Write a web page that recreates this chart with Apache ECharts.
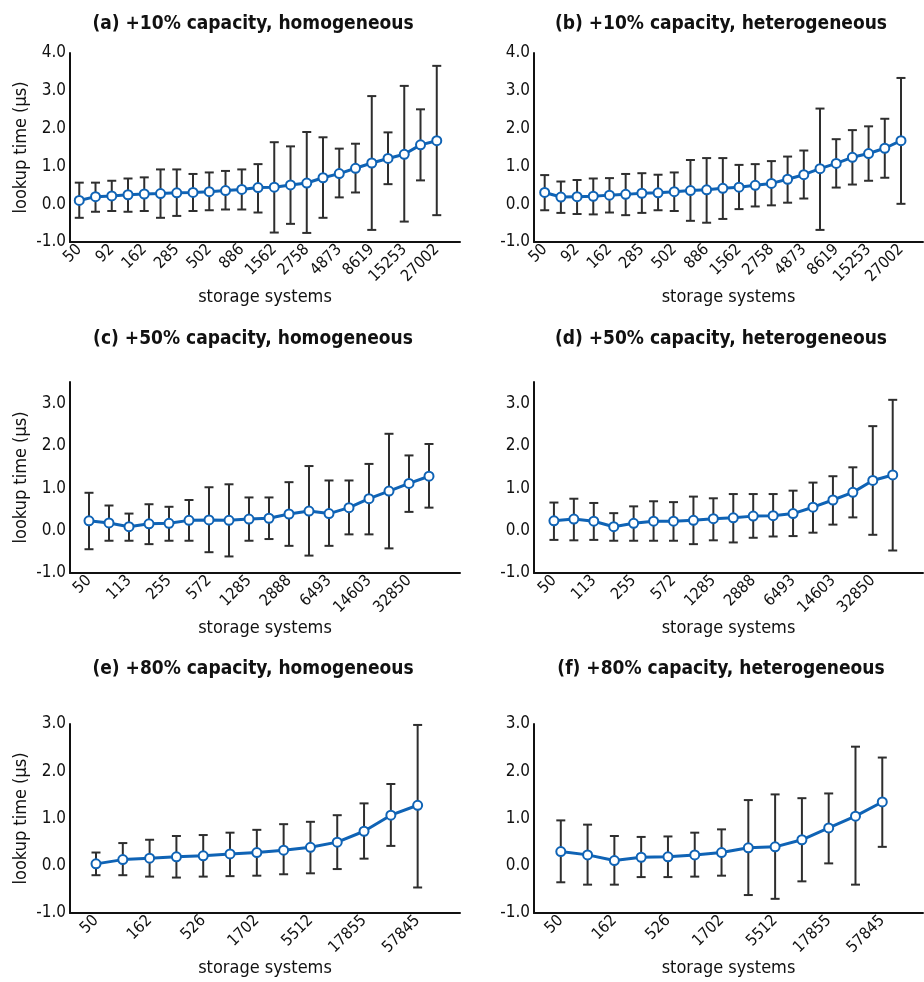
<!DOCTYPE html>
<html>
<head>
<meta charset="utf-8">
<script src="https://cdn.jsdelivr.net/npm/echarts@6/dist/echarts.min.js"></script>
<style>
  html, body { margin: 0; padding: 0; background: #fff; }
  #chart { width: 924px; height: 982px; }
</style>
</head>
<body>
<div id="chart"></div>
<script>
// tick labels of the x axes (every other point is labelled)
const labelsA = ['50', '92', '162', '285', '502', '886', '1562', '2758', '4873', '8619', '15253', '27002'];
const labelsC = ['50', '113', '255', '572', '1285', '2888', '6493', '14603', '32850'];
const labelsE = ['50', '162', '526', '1702', '5512', '17855', '57845'];

// (a) +10% homogeneous
const meanA = [0.10, 0.20, 0.22, 0.25, 0.27, 0.28, 0.30, 0.31, 0.33, 0.36, 0.39, 0.44, 0.45, 0.51, 0.56, 0.70, 0.81, 0.95, 1.09, 1.21, 1.32, 1.57, 1.68];
const lowA = [-0.36, -0.20, -0.18, -0.20, -0.18, -0.36, -0.31, -0.18, -0.16, -0.14, -0.14, -0.22, -0.75, -0.52, -0.76, -0.36, 0.18, 0.31, -0.68, 0.53, -0.46, 0.63, -0.29];
const highA = [0.57, 0.57, 0.62, 0.68, 0.71, 0.92, 0.92, 0.80, 0.84, 0.88, 0.92, 1.06, 1.64, 1.53, 1.91, 1.77, 1.47, 1.60, 2.86, 1.90, 3.13, 2.51, 3.66];

// (b) +10% heterogeneous
const meanB = [0.31, 0.19, 0.20, 0.21, 0.24, 0.26, 0.29, 0.30, 0.33, 0.36, 0.38, 0.42, 0.45, 0.50, 0.55, 0.66, 0.78, 0.94, 1.08, 1.24, 1.34, 1.48, 1.68];
const lowB = [-0.16, -0.23, -0.26, -0.27, -0.22, -0.29, -0.23, -0.16, -0.18, -0.44, -0.49, -0.39, -0.13, -0.06, -0.03, 0.04, 0.15, -0.68, 0.44, 0.52, 0.62, 0.70, 0.01];
const highB = [0.77, 0.60, 0.64, 0.68, 0.69, 0.80, 0.82, 0.78, 0.84, 1.17, 1.22, 1.22, 1.04, 1.06, 1.14, 1.26, 1.42, 2.53, 1.72, 1.96, 2.06, 2.26, 3.34];

// (c) +50% homogeneous
const meanC = [0.23, 0.18, 0.09, 0.16, 0.17, 0.24, 0.25, 0.24, 0.27, 0.29, 0.39, 0.46, 0.40, 0.54, 0.75, 0.93, 1.11, 1.28];
const lowC = [-0.44, -0.24, -0.24, -0.32, -0.24, -0.24, -0.51, -0.61, -0.24, -0.20, -0.36, -0.59, -0.36, -0.09, -0.09, -0.42, 0.44, 0.54];
const highC = [0.89, 0.59, 0.40, 0.62, 0.56, 0.72, 1.02, 1.09, 0.78, 0.78, 1.14, 1.52, 1.18, 1.18, 1.57, 2.28, 1.77, 2.04];

// (d) +50% heterogeneous
const meanD = [0.23, 0.27, 0.22, 0.09, 0.17, 0.22, 0.22, 0.24, 0.28, 0.30, 0.34, 0.35, 0.40, 0.55, 0.72, 0.90, 1.18, 1.31];
const lowD = [-0.22, -0.23, -0.22, -0.24, -0.24, -0.24, -0.24, -0.32, -0.23, -0.28, -0.17, -0.14, -0.13, -0.05, 0.14, 0.31, -0.10, -0.47];
const highD = [0.66, 0.75, 0.65, 0.41, 0.57, 0.69, 0.67, 0.80, 0.76, 0.86, 0.86, 0.86, 0.94, 1.13, 1.28, 1.49, 2.46, 3.08];

// (e) +80% homogeneous
const meanE = [0.04, 0.13, 0.16, 0.19, 0.21, 0.25, 0.28, 0.33, 0.39, 0.50, 0.73, 1.07, 1.28];
const lowE = [-0.20, -0.20, -0.23, -0.25, -0.23, -0.22, -0.21, -0.18, -0.16, -0.07, 0.15, 0.42, -0.46];
const highE = [0.28, 0.48, 0.55, 0.63, 0.65, 0.70, 0.76, 0.88, 0.93, 1.07, 1.32, 1.73, 2.98];

// (f) +80% heterogeneous
const meanF = [0.30, 0.23, 0.11, 0.18, 0.19, 0.23, 0.28, 0.38, 0.40, 0.55, 0.80, 1.05, 1.35];
const lowF = [-0.35, -0.40, -0.40, -0.24, -0.24, -0.23, -0.21, -0.62, -0.70, -0.33, 0.05, -0.40, 0.40];
const highF = [0.96, 0.87, 0.63, 0.61, 0.62, 0.70, 0.77, 1.39, 1.51, 1.43, 1.53, 2.52, 2.29];

const titles = [
  '(a) +10% capacity, homogeneous', '(b) +10% capacity, heterogeneous',
  '(c) +50% capacity, homogeneous', '(d) +50% capacity, heterogeneous',
  '(e) +80% capacity, homogeneous', '(f) +80% capacity, heterogeneous'
];

const FONT = "'Liberation Sans Narrow', 'DejaVu Sans Condensed', sans-serif";
const BLUE = '#0f63b5';
const BAR = '#2e2e2e';

const panels = [
  { mean: meanA, low: lowA, high: highA, labels: labelsA, grid: { left: 70, top: 53, width: 390, height: 189 }, xMin: -0.57, xMax: 23.43, yMax: 4, titleX: 248, titleY: 10 },
  { mean: meanB, low: lowB, high: highB, labels: labelsA, grid: { left: 534, top: 53, width: 389, height: 189 }, xMin: -0.66, xMax: 23.36, yMax: 4, titleX: 716, titleY: 10 },
  { mean: meanC, low: lowC, high: highC, labels: labelsC, grid: { left: 70, top: 382, width: 390, height: 191 }, xMin: -0.95, xMax: 18.55, yMax: 3.5, titleX: 248, titleY: 325 },
  { mean: meanD, low: lowD, high: highD, labels: labelsC, grid: { left: 534, top: 382, width: 389, height: 191 }, xMin: -1.0, xMax: 18.52, yMax: 3.5, titleX: 716, titleY: 325 },
  { mean: meanE, low: lowE, high: highE, labels: labelsE, grid: { left: 70, top: 724, width: 390, height: 189 }, xMin: -0.97, xMax: 13.58, yMax: 3, titleX: 248, titleY: 655 },
  { mean: meanF, low: lowF, high: highF, labels: labelsE, grid: { left: 534, top: 724, width: 389, height: 189 }, xMin: -1.0, xMax: 13.52, yMax: 3, titleX: 716, titleY: 655 }
];

function errorBarItem(params, api) {
  const x = api.value(0);
  const lo = api.coord([x, api.value(1)]);
  const hi = api.coord([x, api.value(2)]);
  const half = 4.5;
  const style = { stroke: BAR, lineWidth: 2 };
  return {
    type: 'group',
    children: [
      { type: 'line', shape: { x1: lo[0], y1: lo[1], x2: hi[0], y2: hi[1] }, style: style },
      { type: 'line', shape: { x1: lo[0] - half, y1: lo[1], x2: lo[0] + half, y2: lo[1] }, style: style },
      { type: 'line', shape: { x1: hi[0] - half, y1: hi[1], x2: hi[0] + half, y2: hi[1] }, style: style }
    ]
  };
}

const chart = echarts.init(document.getElementById('chart'), null, { renderer: 'canvas' });

const option = {
  animation: false,
  backgroundColor: '#fff',
  textStyle: { fontFamily: FONT },
  title: panels.map((p, i) => ({
    text: titles[i],
    left: p.titleX,
    top: p.titleY,
    textAlign: 'center',
    textStyle: { fontFamily: FONT, fontSize: 19, fontWeight: 'bold', color: '#111' }
  })),
  grid: panels.map(p => Object.assign({ containLabel: false }, p.grid)),
  xAxis: panels.map((p, i) => ({
    type: 'value',
    gridIndex: i,
    min: p.xMin,
    max: p.xMax,
    minInterval: 2,
    maxInterval: 2,
    name: 'storage systems',
    nameLocation: 'middle',
    nameGap: 44,
    nameTextStyle: { fontFamily: FONT, fontSize: 18, color: '#111' },
    axisLine: { show: true, onZero: false, lineStyle: { color: '#111', width: 2 } },
    axisTick: { show: false },
    splitLine: { show: false },
    axisLabel: {
      rotate: 45,
      margin: 5,
      fontFamily: FONT,
      fontSize: 16,
      color: '#111',
      showMinLabel: false,
      showMaxLabel: false,
      formatter: v => {
        const k = Math.round(v);
        if (Math.abs(v - k) > 1e-6 || k % 2 !== 0) return '';
        return p.labels[k / 2] || '';
      }
    }
  })),
  yAxis: panels.map((p, i) => ({
    type: 'value',
    gridIndex: i,
    min: -1,
    max: p.yMax,
    interval: 1,
    name: i % 2 === 0 ? 'lookup time (µs)' : '',
    nameLocation: 'middle',
    nameGap: 40,
    nameTextStyle: { fontFamily: FONT, fontSize: 18, color: '#111' },
    axisLine: { show: true, onZero: false, lineStyle: { color: '#111', width: 2 } },
    axisTick: { show: false },
    splitLine: { show: false },
    axisLabel: {
      margin: 4,
      fontFamily: FONT,
      fontSize: 17,
      color: '#111',
      formatter: v => Number.isInteger(v) ? v.toFixed(1) : ''
    }
  })),
  series: []
};

panels.forEach((p, i) => {
  option.series.push({
    type: 'custom',
    xAxisIndex: i,
    yAxisIndex: i,
    renderItem: errorBarItem,
    encode: { x: 0, y: [1, 2] },
    data: p.mean.map((_, k) => [k, p.low[k], p.high[k]]),
    z: 2
  });
  option.series.push({
    type: 'line',
    xAxisIndex: i,
    yAxisIndex: i,
    data: p.mean.map((v, k) => [k, v]),
    symbol: 'circle',
    symbolSize: 9,
    lineStyle: { color: BLUE, width: 3 },
    itemStyle: { color: '#fff', borderColor: BLUE, borderWidth: 2 },
    z: 3
  });
});

chart.setOption(option);
</script>
</body>
</html>
